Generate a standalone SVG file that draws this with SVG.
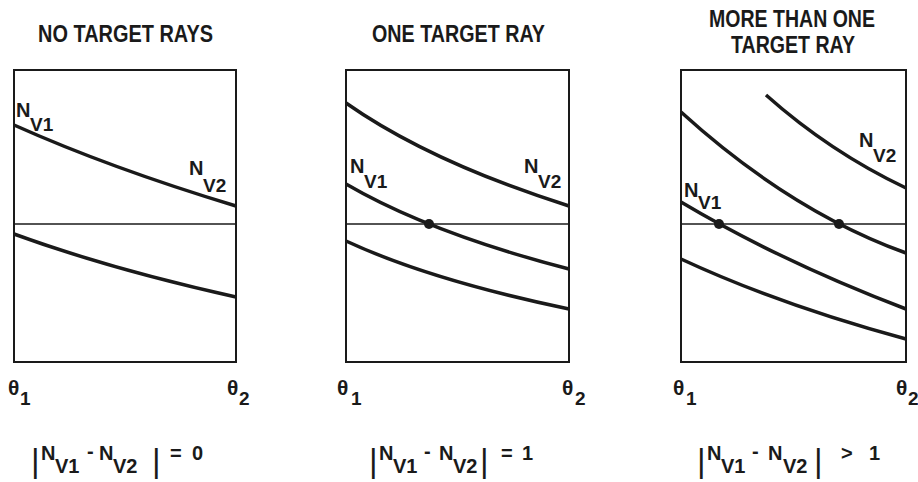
<svg xmlns="http://www.w3.org/2000/svg" width="918" height="482" viewBox="0 0 918 482">
<style>
text{font-family:"Liberation Sans",Arial,sans-serif;fill:#1a1a1a;font-weight:bold}
.t{font-size:23px;text-anchor:middle}
.n{font-size:20px}
.s{font-size:19px}
.fs{font-size:20px}
.th{font-size:21px}
.bar{font-size:33px;font-weight:normal}
.box{fill:none;stroke:#1a1a1a;stroke-width:2}
.axis{stroke:#1a1a1a;stroke-width:1.5}
.c{fill:none;stroke:#1a1a1a;stroke-width:3.5;stroke-linecap:butt}
.dot{fill:#1a1a1a}
</style>
<rect width="918" height="482" fill="#fff"/>

<g id="panel1">
  <text class="t" x="125.5" y="42" textLength="175" lengthAdjust="spacingAndGlyphs">NO TARGET RAYS</text>
  <rect class="box" x="14" y="70" width="222" height="292"/>
  <line class="axis" x1="14" y1="224" x2="236" y2="224"/>
  <path class="c" d="M14,125 Q110,168 236,206"/>
  <path class="c" d="M14,234 Q110,269 236,297"/>
  <text class="n" x="16" y="117">N<tspan class="s" x="30" y="131">V1</tspan></text>
  <text class="n" x="189" y="175">N<tspan class="s" x="203" y="192">V2</tspan></text>
  <text class="th" x="8" y="395">θ<tspan class="s" x="20" y="405">1</tspan></text>
  <text class="th" x="227" y="395">θ<tspan class="s" x="239" y="405">2</tspan></text>
  <text class="n" x="31" y="472"><tspan class="bar">|</tspan><tspan x="41" y="460">N</tspan><tspan class="fs" x="55" y="473">V1</tspan><tspan x="87" y="458">-</tspan><tspan x="99" y="460">N</tspan><tspan class="fs" x="113" y="473">V2</tspan><tspan class="bar" x="152" y="472">|</tspan><tspan x="170" y="460">=</tspan><tspan x="192" y="460">0</tspan></text>
</g>

<g id="panel2">
  <text class="t" x="458.5" y="42" textLength="173" lengthAdjust="spacingAndGlyphs">ONE TARGET RAY</text>
  <rect class="box" x="346" y="70" width="223" height="292"/>
  <line class="axis" x1="346" y1="224" x2="569" y2="224"/>
  <path class="c" d="M346,103 Q430,162 569,206"/>
  <path class="c" d="M346,184 Q430,233 569,269"/>
  <path class="c" d="M346,241 Q430,280 569,309"/>
  <circle class="dot" cx="429" cy="224" r="5"/>
  <text class="n" x="350" y="173">N<tspan class="s" x="364" y="188">V1</tspan></text>
  <text class="n" x="524" y="173">N<tspan class="s" x="538" y="188">V2</tspan></text>
  <text class="th" x="337" y="395">θ<tspan class="s" x="351" y="405">1</tspan></text>
  <text class="th" x="562" y="395">θ<tspan class="s" x="575" y="405">2</tspan></text>
  <text class="n" x="369" y="472"><tspan class="bar">|</tspan><tspan x="379" y="460">N</tspan><tspan class="fs" x="393" y="473">V1</tspan><tspan x="424" y="458">-</tspan><tspan x="439" y="460">N</tspan><tspan class="fs" x="453" y="473">V2</tspan><tspan class="bar" x="480" y="472">|</tspan><tspan x="501" y="460">=</tspan><tspan x="522" y="460">1</tspan></text>
</g>

<g id="panel3">
  <text class="t" x="792" y="27" textLength="166" lengthAdjust="spacingAndGlyphs">MORE THAN ONE</text>
  <text class="t" x="793" y="53" textLength="124" lengthAdjust="spacingAndGlyphs">TARGET RAY</text>
  <rect class="box" x="681" y="70" width="225" height="292"/>
  <line class="axis" x1="681" y1="224" x2="906" y2="224"/>
  <path class="c" d="M766,95 Q830,152 906,188"/>
  <path class="c" d="M681,112 Q790,211 906,253"/>
  <path class="c" d="M681,202 Q780,261 906,309"/>
  <path class="c" d="M681,259 Q780,305 906,339"/>
  <circle class="dot" cx="719" cy="224" r="5"/>
  <circle class="dot" cx="839" cy="224" r="5"/>
  <text class="n" x="684" y="197">N<tspan class="s" x="698" y="209">V1</tspan></text>
  <text class="n" x="859" y="147">N<tspan class="s" x="873" y="162">V2</tspan></text>
  <text class="th" x="673" y="395">θ<tspan class="s" x="686" y="405">1</tspan></text>
  <text class="th" x="896" y="395">θ<tspan class="s" x="908" y="405">2</tspan></text>
  <text class="n" x="697" y="472"><tspan class="bar">|</tspan><tspan x="707" y="460">N</tspan><tspan class="fs" x="721" y="473">V1</tspan><tspan x="752" y="458">-</tspan><tspan x="768" y="460">N</tspan><tspan class="fs" x="783" y="473">V2</tspan><tspan class="bar" x="814" y="472">|</tspan><tspan x="841" y="460">&gt;</tspan><tspan x="869" y="460">1</tspan></text>
</g>
</svg>
